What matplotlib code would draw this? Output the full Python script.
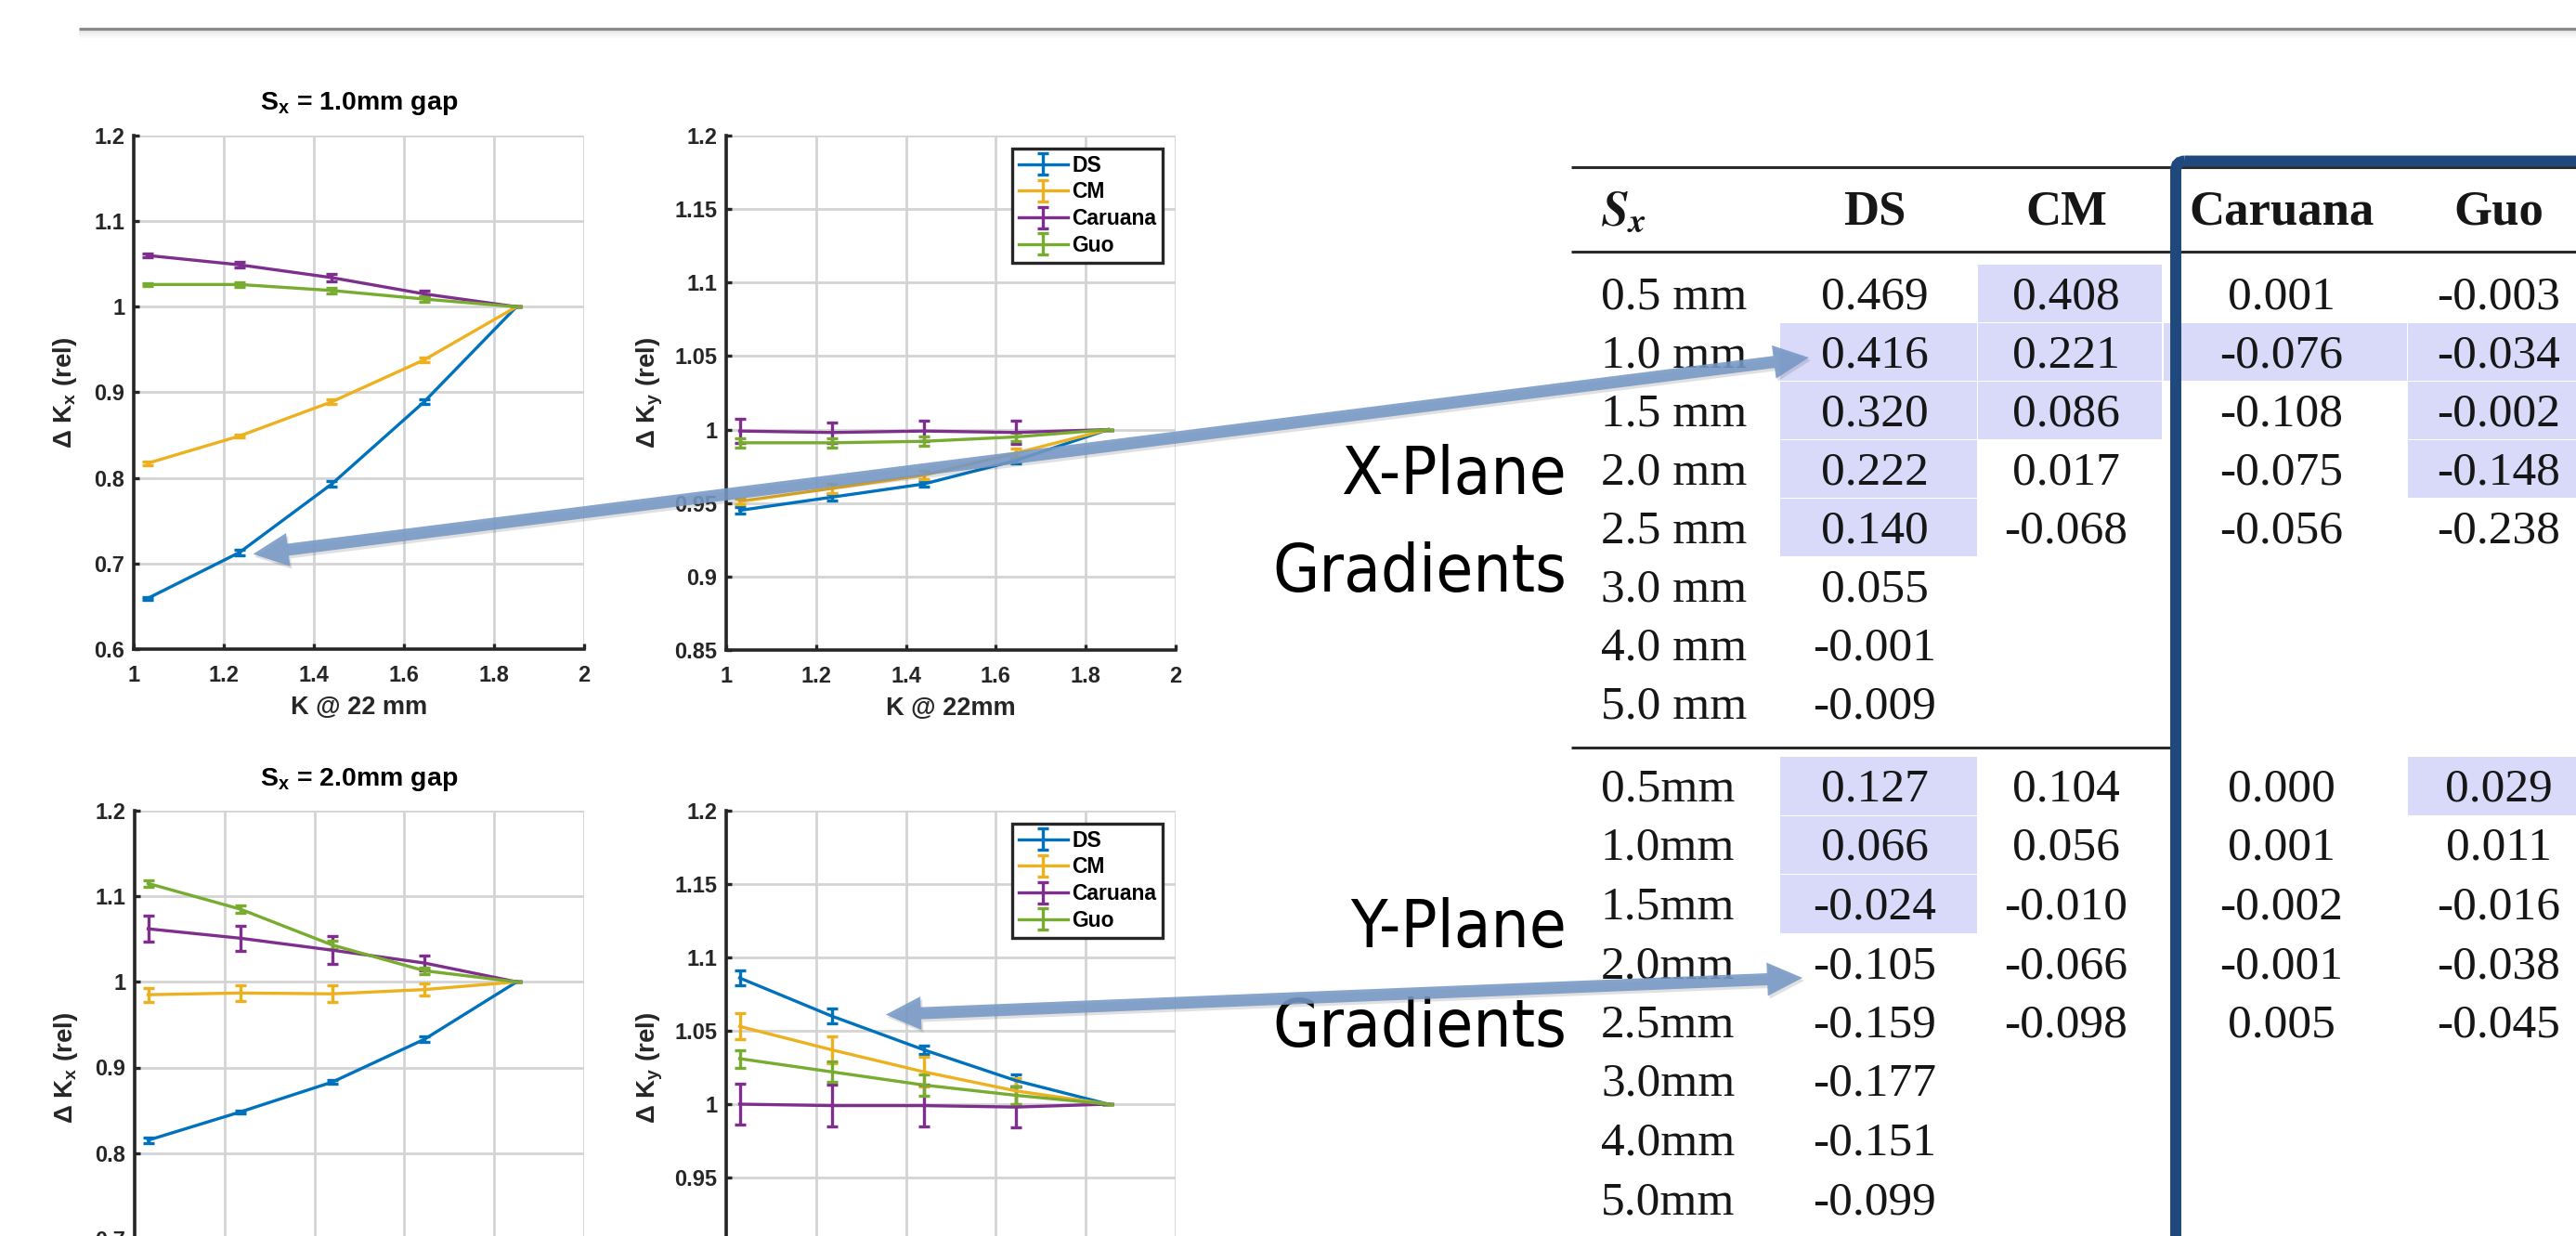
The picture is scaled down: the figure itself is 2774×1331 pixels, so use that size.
import numpy as np
import matplotlib
matplotlib.use('Agg')
from matplotlib import pyplot as plt
from matplotlib import font_manager
from matplotlib.patches import Polygon, Rectangle, FancyBboxPatch
from matplotlib.ticker import FuncFormatter

plt.rcParams['font.family'] = ['Liberation Sans', 'DejaVu Sans']
plt.rcParams['font.weight'] = 'bold'

# ---------------- values ----------------
K_22MM = [1.03, 1.235, 1.44, 1.645, 1.85]
METHODS = ['DS', 'CM', 'Caruana', 'Guo']
COLORS = ['#0072BD', '#EDB120', '#7E2F8E', '#77AC30']

# Sx = 1.0 mm gap (rows: DS, CM, Caruana, Guo)
kx_10 = [[0.659, 0.713, 0.793, 0.889, 1.0],
         [0.817, 0.849, 0.889, 0.938, 1.0],
         [1.060, 1.049, 1.034, 1.015, 1.0],
         [1.026, 1.026, 1.019, 1.009, 1.0]]
kx_10_err = [[0.002, 0.003, 0.003, 0.003, 0.0],
             [0.002, 0.002, 0.003, 0.003, 0.0],
             [0.002, 0.003, 0.004, 0.004, 0.0],
             [0.002, 0.003, 0.003, 0.003, 0.0]]
ky_10 = [[0.945, 0.954, 0.963, 0.979, 1.0],
         [0.951, 0.960, 0.969, 0.984, 1.0],
         [0.999, 0.998, 0.999, 0.998, 1.0],
         [0.991, 0.991, 0.992, 0.995, 1.0]]
ky_10_err = [[0.002, 0.002, 0.002, 0.002, 0.0],
             [0.002, 0.003, 0.003, 0.003, 0.0],
             [0.008, 0.007, 0.007, 0.008, 0.0],
             [0.003, 0.003, 0.003, 0.003, 0.0]]

# Sx = 2.0 mm gap
kx_20 = [[0.815, 0.848, 0.883, 0.933, 1.0],
         [0.985, 0.987, 0.986, 0.991, 1.0],
         [1.062, 1.051, 1.037, 1.022, 1.0],
         [1.115, 1.085, 1.043, 1.013, 1.0]]
kx_20_err = [[0.003, 0.002, 0.002, 0.003, 0.0],
             [0.008, 0.009, 0.010, 0.007, 0.0],
             [0.015, 0.015, 0.016, 0.009, 0.0],
             [0.004, 0.004, 0.005, 0.004, 0.0]]
ky_20 = [[1.086, 1.060, 1.037, 1.016, 1.0],
         [1.053, 1.037, 1.022, 1.009, 1.0],
         [1.000, 0.999, 0.999, 0.998, 1.0],
         [1.031, 1.022, 1.013, 1.006, 1.0]]
ky_20_err = [[0.005, 0.005, 0.003, 0.004, 0.0],
             [0.009, 0.009, 0.010, 0.009, 0.0],
             [0.014, 0.014, 0.014, 0.014, 0.0],
             [0.006, 0.007, 0.007, 0.006, 0.0]]

# gradient table
sx_x = ['0.5 mm', '1.0 mm', '1.5 mm', '2.0 mm', '2.5 mm', '3.0 mm', '4.0 mm', '5.0 mm']
sx_y = ['0.5mm', '1.0mm', '1.5mm', '2.0mm', '2.5mm', '3.0mm', '4.0mm', '5.0mm']
grad_x_ds = [0.469, 0.416, 0.320, 0.222, 0.140, 0.055, -0.001, -0.009]
grad_x_cm = [0.408, 0.221, 0.086, 0.017, -0.068]
grad_x_car = [0.001, -0.076, -0.108, -0.075, -0.056]
grad_x_guo = [-0.003, -0.034, -0.002, -0.148, -0.238]
grad_y_ds = [0.127, 0.066, -0.024, -0.105, -0.159, -0.177, -0.151, -0.099]
grad_y_cm = [0.104, 0.056, -0.010, -0.066, -0.098]
grad_y_car = [0.000, 0.001, -0.002, -0.001, 0.005]
grad_y_guo = [0.029, 0.011, -0.016, -0.038, -0.045]
# highlighted cells as (row, column)
hl_x = [(0, 1), (1, 0), (1, 1), (1, 2), (1, 3), (2, 0), (2, 1), (2, 3), (3, 0), (3, 3), (4, 0)]
hl_y = [(0, 0), (1, 0), (2, 0), (0, 3)]

# ---------------- layout (pixels of the slide) ----------------
W, H = 2774, 1331
fig = plt.figure(figsize=(W / 100, H / 100), dpi=100, facecolor='white')
AXC = '#262626'


def box(x0, y0, x1, y1):
    return fig.add_axes([x0 / W, 1 - y1 / H, (x1 - x0) / W, (y1 - y0) / H])


def panel(ax, vals, errs, ylim, ystep, ylabel, ylab_x, xlabel=None, title=None, legend=False):
    for v, e, name, c in zip(vals, errs, METHODS, COLORS):
        ax.errorbar(K_22MM, v, yerr=e, color=c, lw=2.4, elinewidth=2.4,
                    capsize=4.3, capthick=2.4, label=name)
    ax.set_xlim(1, 2)
    ax.set_ylim(*ylim)
    ax.set_xticks(np.round(np.arange(1, 2.01, 0.2), 3))
    ax.set_yticks(np.round(np.arange(ylim[0], ylim[1] + ystep / 2, ystep), 3))
    fmt = FuncFormatter(lambda v, p: f'{v:g}')
    ax.xaxis.set_major_formatter(fmt)
    ax.yaxis.set_major_formatter(fmt)
    ax.tick_params(direction='in', length=4.5, width=2.4, color=AXC,
                   labelcolor=AXC, labelsize=17)
    ax.tick_params(axis='x', pad=12)
    ax.tick_params(axis='y', pad=7)
    plt.setp(ax.get_xticklabels() + ax.get_yticklabels(), fontweight='bold')
    for s in ['top', 'right']:
        ax.spines[s].set_visible(False)
    for s in ['left', 'bottom']:
        ax.spines[s].set_linewidth(2.6)
        ax.spines[s].set_color(AXC)
    ax.grid(True, color='#d4d4d4', lw=2.0)
    ax.set_axisbelow(True)
    ax.set_ylabel(ylabel, fontsize=20, color=AXC, va='center', fontweight='bold')
    ax.yaxis.set_label_coords(ylab_x, 0.5)
    if xlabel:
        ax.set_xlabel(xlabel, fontsize=19.5, color=AXC, va='center', fontweight='bold')
        ax.xaxis.set_label_coords(0.5, -63 / 553)
    if title:
        ax.text(0.5, 1 + 34 / 553, title, transform=ax.transAxes, ha='center',
                va='center', fontsize=20.5, color='black', fontweight='bold')
    if legend:
        leg = ax.legend(loc='upper right', bbox_to_anchor=(0.971, 0.975), fancybox=False,
                        framealpha=1, edgecolor=AXC, handlelength=2.3,
                        prop={'size': 16.5, 'weight': 'bold'},
                        handletextpad=0.2, borderpad=0.3, labelspacing=0.25, borderaxespad=0)
        leg.get_frame().set_linewidth(2.4)


ax_tl = box(144, 146, 629, 699)
ax_tr = box(782, 146, 1266, 700)
ax_bl = box(145, 873, 629, 1426)
ax_br = box(782, 873, 1266, 1426)

panel(ax_tl, kx_10, kx_10_err, (0.6, 1.2), 0.1, 'Δ K$_\\mathregular{x}$ (rel)', -0.153,
      xlabel='K @ 22 mm', title='S$_\\mathregular{x}$ = 1.0mm gap')
panel(ax_tr, ky_10, ky_10_err, (0.85, 1.2), 0.05, 'Δ K$_\\mathregular{y}$ (rel)', -0.17,
      xlabel='K @ 22mm', legend=True)
panel(ax_bl, kx_20, kx_20_err, (0.6, 1.2), 0.1, 'Δ K$_\\mathregular{x}$ (rel)', -0.153,
      title='S$_\\mathregular{x}$ = 2.0mm gap')
panel(ax_br, ky_20, ky_20_err, (0.85, 1.2), 0.05, 'Δ K$_\\mathregular{y}$ (rel)', -0.17,
      legend=True)

# overlay in slide pixels for the table, labels and arrows
ov = fig.add_axes([0, 0, 1, 1], zorder=10)
ov.set_xlim(0, W)
ov.set_ylim(H, 0)
ov.axis('off')
ov.patch.set_alpha(0)

# slide title rule with a soft shadow
ov.plot([85, W], [31, 31], color='#8a8a8a', lw=2.3, solid_capstyle='butt')
for i, a in enumerate([0.16, 0.11, 0.07, 0.04]):
    ov.plot([85, W], [34 + 2 * i] * 2, color='#808080', alpha=a, lw=1.5, solid_capstyle='butt')

# table
TAB_LEFT = 1692
COL_SX = 1724
COL_C = [2019, 2225, 2457, 2691]
COL_EDGES = [(1917, 2129), (2130, 2328), (2330, 2592), (2593, 2800)]
HL = '#d9d9fa'
TXT = '#161616'
serif = dict(family='Liberation Serif', weight='normal', color=TXT)


def block(top, pitch, labels, cols, hl):
    for r, c in hl:
        x0, x1 = COL_EDGES[c]
        ov.add_patch(Rectangle((x0, top + r * pitch), x1 - x0, pitch - 1, fc=HL, ec='none', zorder=1))
    for r, lab in enumerate(labels):
        ov.text(COL_SX, top + r * pitch + 47.5, lab, ha='left', va='baseline', fontsize=37, **serif)
    for c, col in enumerate(cols):
        for r, v in enumerate(col):
            ov.text(COL_C[c], top + r * pitch + 47.5, f'{v:.3f}', ha='center',
                    va='baseline', fontsize=37, **serif)


block(285, 63, sx_x, [grad_x_ds, grad_x_cm, grad_x_car, grad_x_guo], hl_x)
block(815, 63.5, sx_y, [grad_y_ds, grad_y_cm, grad_y_car, grad_y_guo], hl_y)

ov.text(COL_SX, 242, r'$S_x$', ha='left', va='baseline', fontsize=38,
        math_fontfamily='stix', color=TXT)
for c, name in enumerate(METHODS):
    ov.text(COL_C[c], 242, name, ha='center', va='baseline', fontsize=38,
            family='Liberation Serif', weight='bold', color=TXT)

ov.plot([TAB_LEFT, W], [180, 180], color='#2a2a2a', lw=2.2, solid_capstyle='butt')
ov.plot([TAB_LEFT, W], [271, 271], color='#2a2a2a', lw=2.2, solid_capstyle='butt')
ov.plot([TAB_LEFT, 2337], [805, 805], color='#2a2a2a', lw=2.2, solid_capstyle='butt')

ov.add_patch(FancyBboxPatch((2343, 173.5), 900, 1400, boxstyle='round,pad=0,rounding_size=10',
                            fill=False, ec='#1f497d', lw=8.6, zorder=5))

# side labels
has_cond = any(f.name == 'DejaVu Sans' and f.stretch != 'normal'
               for f in font_manager.fontManager.ttflist)
if has_cond:
    side = dict(family='DejaVu Sans', fontstretch='condensed', fontsize=52)
else:
    side = dict(family='DejaVu Sans', fontsize=49)
for txt, yb in [('X-Plane', 532), ('Gradients', 637), ('Y-Plane', 1020), ('Gradients', 1127)]:
    ov.text(1687, yb, txt, ha='right', va='baseline', weight='normal', color='black', **side)


# double-headed arrows from the table to the curves
def to_ov(ax, x, y):
    return ov.transData.inverted().transform(ax.transData.transform((x, y)))


def thick_arrow(p, q, shaft=6.5, head_w=18, head_l=38):
    p, q = np.asarray(p, float), np.asarray(q, float)
    u = (q - p) / np.hypot(*(q - p))
    n = np.array([-u[1], u[0]])
    a, b = p + u * head_l, q - u * head_l
    pts = np.array([p, a + n * head_w, a + n * shaft, b + n * shaft, b + n * head_w,
                    q, b - n * head_w, b - n * shaft, a - n * shaft, a - n * head_w])
    ov.add_patch(Polygon(pts + [2, 3], closed=True, fc='#404040', ec='none', alpha=0.16, zorder=20))
    ov.add_patch(Polygon(pts, closed=True, fc='#7698c6', ec='none', alpha=0.88, zorder=21))


thick_arrow(to_ov(ax_tl, 1.265, 0.711), (1948, 385))
thick_arrow(to_ov(ax_br, 1.355, 1.061), (1941, 1053))

fig.savefig('out.png', dpi=100, facecolor='white')
